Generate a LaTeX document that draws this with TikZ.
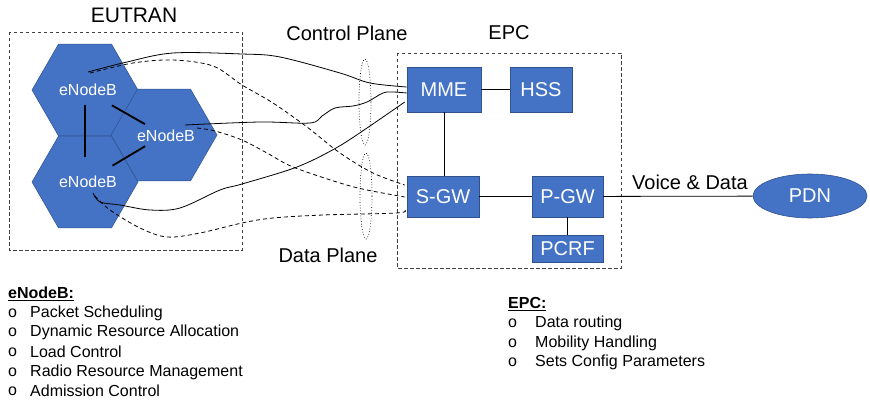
\documentclass[tikz,border=0pt]{standalone}
\usepackage{fontspec}
\setmainfont{Liberation Sans}
\usetikzlibrary{shapes.geometric,calc}
\definecolor{boxblue}{RGB}{68,114,196}
\definecolor{boxedge}{RGB}{47,82,143}
\tikzset{
  hexcell/.style={regular polygon, regular polygon sides=6, minimum size=106pt, inner sep=0pt,
    fill=boxblue, draw=boxedge, line width=0.5pt, text=white, font=\fontsize{16}{18}\selectfont},
  epcbox/.style={rectangle, fill=boxblue, draw=boxedge, line width=0.6pt, text=white,
    font=\fontsize{20}{22}\selectfont, inner sep=0pt},
  biglabel/.style={font=\fontsize{20}{22}\selectfont, inner sep=0pt},
  groupbox/.style={draw=black!75, dashed, dash pattern=on 3.5pt off 2.5pt, line width=0.6pt},
  planering/.style={ellipse, draw=black, dotted, line width=0.7pt, minimum width=12pt, minimum height=86pt, inner sep=0pt},
  cplink/.style={draw=black, line width=0.8pt},
  dplink/.style={draw=black, line width=0.8pt, dash pattern=on 4pt off 3pt},
  epclink/.style={draw=black, line width=0.8pt},
  hexlink/.style={draw=black, line width=1.8pt},
  listtext/.style={font=\fontsize{16}{19}\selectfont, inner sep=0pt, anchor=west},
}
\begin{document}
\begin{tikzpicture}[x=1pt,y=-1pt]
\useasboundingbox (0,0) rectangle (870,401);

% group boxes
\draw[groupbox] (9,32) rectangle (242,250);
\draw[groupbox] (397,53) rectangle (621,268);
\node[biglabel, font=\fontsize{21}{23}\selectfont] (eutranlbl) at (134,15) {EUTRAN};
\node[biglabel] (epclbl) at (509,33) {EPC};
\node[biglabel] (cplbl) at (347,33) {Control Plane};
\node[biglabel] (dplbl) at (328,255) {Data Plane};

% hex cells
\node[hexcell] (h1) at (85,90) {};
\node[hexcell] (h3) at (85,182) {};
\node[hexcell] (h2) at (164,135) {};
\node[text=white, font=\fontsize{16}{18}\selectfont, inner sep=0pt] (t1) at (88,90) {eNodeB};
\node[text=white, font=\fontsize{16}{18}\selectfont, inner sep=0pt] (t2) at (166,136) {eNodeB};
\node[text=white, font=\fontsize{16}{18}\selectfont, inner sep=0pt] (t3) at (88,182) {eNodeB};

\draw[hexlink, shorten <=15pt, shorten >=25pt] (h1.center) -- (h3.center);
\draw[hexlink, shorten <=31pt, shorten >=22pt] (h1.center) -- (h2.center);
\draw[hexlink, shorten <=32pt, shorten >=22pt] (h3.center) -- (h2.center);

% EPC boxes
\node[epcbox, minimum width=74pt, minimum height=45pt] (mme) at (444,89.5) {MME};
\node[epcbox, minimum width=62pt, minimum height=45pt] (hss) at (541,89.5) {HSS};
\node[epcbox, minimum width=72pt, minimum height=41pt] (sgw) at (443,196.5) {S-GW};
\node[epcbox, minimum width=71pt, minimum height=41pt] (pgw) at (567.5,196.5) {P-GW};
\node[epcbox, minimum width=71pt, minimum height=27pt] (pcrf) at (567.5,248.5) {PCRF};
\node[ellipse, fill=boxblue, draw=boxedge, line width=0.6pt, text=white, font=\fontsize{20}{22}\selectfont,
  minimum width=114pt, minimum height=44pt, inner sep=0pt] (pdn) at (810,196) {PDN};

\draw[epclink] (mme) -- (hss);
\draw[epclink] (mme.south) -- (mme.south |- sgw.north);
\draw[epclink] (sgw) -- (pgw);
\draw[epclink] (pgw) -- (pcrf);
\draw[epclink] (pgw) -- (pdn);
\node[biglabel] (vdlbl) at (690,182) {Voice \& Data};

% plane rings
\node[planering] (cpring) at (365,102) {};
\node[planering] (dpring) at (366,196) {};

% endpoints
\coordinate (a1) at (88,72);
\coordinate (a2) at (185,125);
\coordinate (a3) at (93,193);
\coordinate (b1) at (90,73);
\coordinate (b2) at (197,128);
\coordinate (b3) at (95,196);
\coordinate (m1) at ($(mme.west)+(0,-2.5)$);
\coordinate (m2) at ($(mme.west)+(0,3.5)$);
\coordinate (m3) at ($(mme.west)+(-2,12.5)$);
\coordinate (g1) at ($(sgw.west)+(-2,-11.5)$);
\coordinate (g2) at ($(sgw.west)+(-2,0.5)$);
\coordinate (g3) at ($(sgw.west)+(-2,13.5)$);

% control plane links
\draw[cplink] plot[smooth, tension=0.55] coordinates {(a1) (127,62) (173,53) (242,54) (280,57) (340,73) (370,83) (m1)};
\draw[cplink] plot[smooth, tension=0.55] coordinates {(a2) (260,122) (310,123) (322,116) (335,108) (353,106) (367,102) (383,93) (393,92) (m2)};
\draw[cplink] plot[smooth, tension=0.55] coordinates {(a3) (100,202) (120,205) (150,210) (180,208) (220,190) (242,184) (297,167) (336,148) (367,128) (m3)};

% data plane links
\draw[dplink] plot[smooth, tension=0.55] coordinates {(b1) (133,63) (173,60) (213,66) (242,85) (273,103) (307,127) (340,153) (373,173) (g1)};
\draw[dplink] plot[smooth, tension=0.55] coordinates {(b2) (215,131) (242,140) (267,153) (293,167) (340,183) (367,190) (g2)};
\draw[dplink] plot[smooth, tension=0.55] coordinates {(b3) (110,210) (140,228) (167,237) (200,233) (242,223) (273,218) (323,215) (397,213) (g3)};

% lists
\node[listtext, font=\fontsize{16}{19}\selectfont\bfseries] (enbhead) at (8,294) {\underline{eNodeB:}};
\node[listtext] (eb1) at (8,313) {o};
\node[listtext] (et1) at (30,313) {Packet Scheduling};
\node[listtext] (eb2) at (8,332) {o};
\node[listtext] (et2) at (30,332) {Dynamic Resource Allocation};
\node[listtext] (eb3) at (8,352) {o};
\node[listtext] (et3) at (30,352) {Load Control};
\node[listtext] (eb4) at (8,372) {o};
\node[listtext] (et4) at (30,372) {Radio Resource Management};
\node[listtext] (eb5) at (8,391) {o};
\node[listtext] (et5) at (30,391) {Admission Control};

\node[listtext, font=\fontsize{16}{19}\selectfont\bfseries] (epchead) at (508,304) {\underline{EPC:}};
\node[listtext] (pb1) at (508,323) {o};
\node[listtext] (pt1) at (535,323) {Data routing};
\node[listtext] (pb2) at (508,343) {o};
\node[listtext] (pt2) at (535,343) {Mobility Handling};
\node[listtext] (pb3) at (508,362) {o};
\node[listtext] (pt3) at (535,362) {Sets Config Parameters};
\end{tikzpicture}
\end{document}
